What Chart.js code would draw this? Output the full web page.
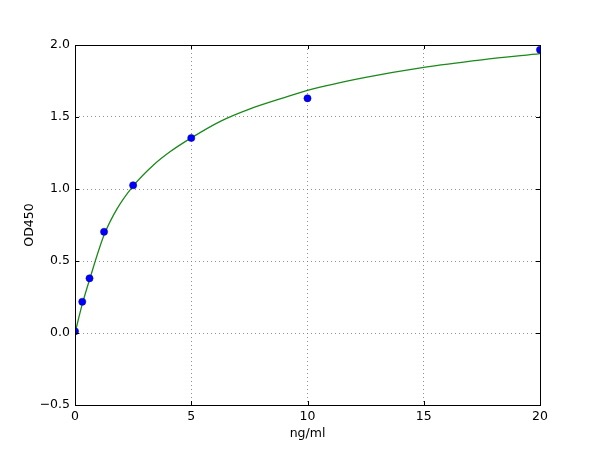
<!DOCTYPE html>
<html>
<head>
<meta charset="utf-8">
<script src="https://cdn.jsdelivr.net/npm/chart.js@4/dist/chart.umd.min.js"></script>
<style>
  html, body { margin: 0; padding: 0; background: #fff; }
  canvas { display: block; }
</style>
</head>
<body>
<canvas id="chart" width="600" height="450"></canvas>
<script>
// standard points (ng/ml vs OD450)
const conc = [0, 0.3125, 0.625, 1.25, 2.5, 5, 10, 20];
const od = [0.012, 0.217, 0.38, 0.703, 1.026, 1.354, 1.63, 1.967];

// fitted curve
const curveX = [0, 0.3125, 0.625, 1.25, 1.8, 2.5, 3.4, 4.1, 5, 6.25, 7.5, 9, 10, 12.5, 15, 17.5, 20];
const curveY = [0.0, 0.2, 0.37, 0.68, 0.86, 1.02, 1.17, 1.26, 1.355, 1.47, 1.555, 1.635, 1.685, 1.775, 1.845, 1.897, 1.94];

const xTicks = [0, 5, 10, 15, 20];
const yTicks = [-0.5, 0, 0.5, 1.0, 1.5, 2.0];

const fontFamily = '"DejaVu Sans", sans-serif';

const toXY = (xs, ys) => xs.map((x, i) => ({ x: x, y: ys[i] }));

// matplotlib-ish frame with inward ticks on all four sides
const framePlugin = {
  id: 'frame',
  afterDraw(chart) {
    const ctx = chart.ctx;
    const a = chart.chartArea;
    const xs = chart.scales.x, ys = chart.scales.y;
    ctx.save();
    ctx.strokeStyle = '#000';
    ctx.lineWidth = 1;
    ctx.beginPath();
    xTicks.forEach(v => {
      const px = Math.round(xs.getPixelForValue(v)) + 0.5;
      ctx.moveTo(px, a.bottom); ctx.lineTo(px, a.bottom - 4);
      ctx.moveTo(px, a.top); ctx.lineTo(px, a.top + 4);
    });
    yTicks.forEach(v => {
      const py = Math.round(ys.getPixelForValue(v)) + 0.5;
      ctx.moveTo(a.left, py); ctx.lineTo(a.left + 4, py);
      ctx.moveTo(a.right, py); ctx.lineTo(a.right - 4, py);
    });
    ctx.stroke();
    ctx.strokeRect(a.left + 0.5, a.top + 0.5, a.right - a.left, a.bottom - a.top);
    ctx.restore();
  }
};

new Chart(document.getElementById('chart').getContext('2d'), {
  type: 'scatter',
  data: {
    datasets: [
      {
        data: toXY(conc, od),
        backgroundColor: '#0000ff',
        borderColor: '#00008b',
        borderWidth: 0.5,
        pointRadius: 3.6,
        clip: 0,
        order: 0
      },
      {
        data: toXY(curveX, curveY),
        showLine: true,
        borderColor: '#1a8a1a',
        borderWidth: 1.3,
        pointRadius: 0,
        cubicInterpolationMode: 'monotone',
        clip: 0,
        order: 1
      }
    ]
  },
  options: {
    responsive: false,
    animation: false,
    layout: { padding: { left: 0, right: 60, top: 45, bottom: 0 } },
    plugins: {
      legend: { display: false },
      tooltip: { enabled: false }
    },
    scales: {
      x: {
        type: 'linear',
        min: 0, max: 20,
        afterBuildTicks: s => { s.ticks = xTicks.map(v => ({ value: v })); },
        afterFit: s => { s.height = 45; },
        grid: { color: '#777', lineWidth: 0.8, drawTicks: false },
        border: { display: false, dash: [1, 3] },
        ticks: {
          padding: 4,
          color: '#000',
          maxRotation: 0,
          font: { family: fontFamily, size: 12.5 },
          callback: v => String(v)
        },
        title: {
          display: true, text: 'ng/ml', color: '#000',
          font: { family: fontFamily, size: 12.5 },
          padding: { top: 0, bottom: 9 }
        }
      },
      y: {
        type: 'linear',
        min: -0.5, max: 2.0,
        afterBuildTicks: s => { s.ticks = yTicks.map(v => ({ value: v })); },
        afterFit: s => { s.width = 75; },
        grid: { color: '#777', lineWidth: 0.8, drawTicks: false },
        border: { display: false, dash: [1, 3] },
        ticks: {
          padding: 5,
          color: '#000',
          font: { family: fontFamily, size: 12.5 },
          callback: v => v.toFixed(1).replace('-', '\u2212')
        },
        title: {
          display: true, text: 'OD450', color: '#000',
          font: { family: fontFamily, size: 12.5 },
          padding: { top: 22, bottom: 0 }
        }
      }
    }
  },
  plugins: [framePlugin]
});
</script>
</body>
</html>
